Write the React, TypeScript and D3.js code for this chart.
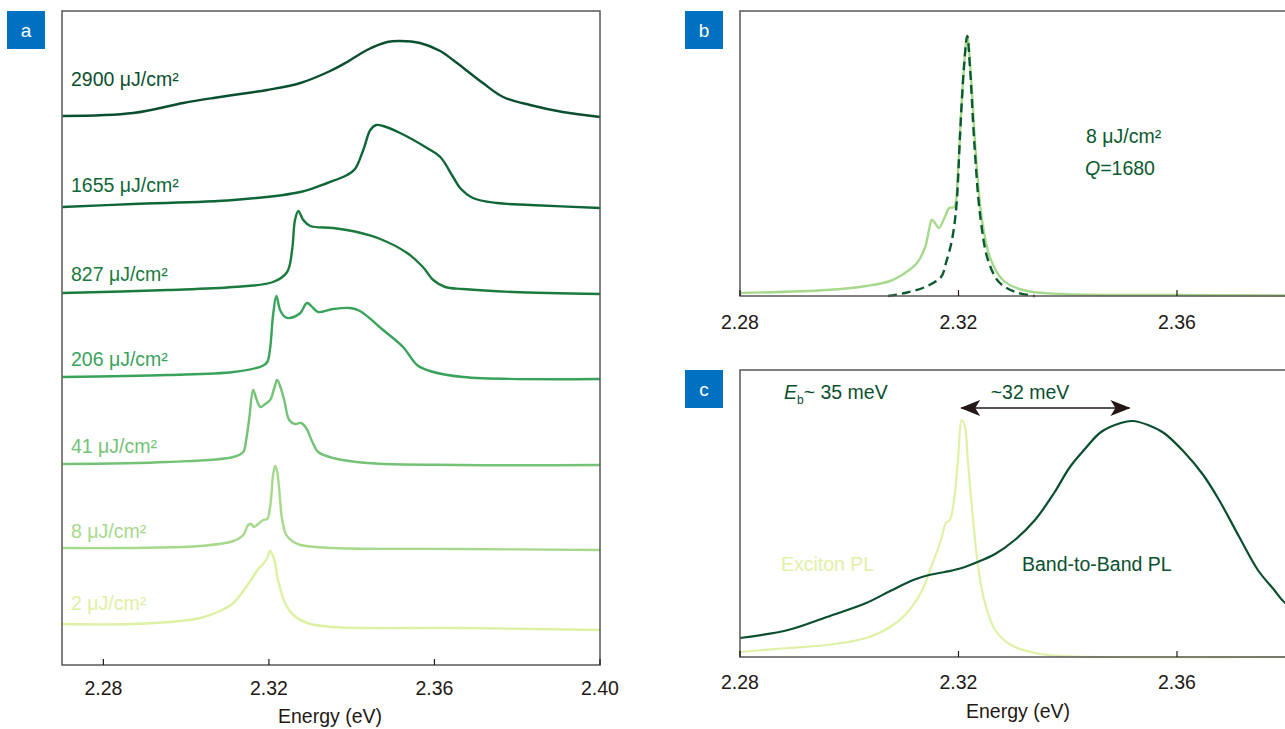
import React from 'react';
import * as d3 from 'd3';

type Pt = [number, number];

// ---------- Axis ticks ----------
const ticksA = [2.28, 2.32, 2.36, 2.4];
const ticksBC = [2.28, 2.32, 2.36];

// ---------- Panel a : PL spectra (offset, a.u.) ----------
const pl2900: Pt[] = [
  [2.2701, 549], [2.2872, 552], [2.2993, 562], [2.3066, 567], [2.3131, 571], [2.3196, 575],
  [2.3276, 582], [2.3348, 594], [2.3389, 603], [2.3437, 615], [2.3486, 623], [2.3517, 624],
  [2.3565, 622], [2.3614, 614], [2.3645, 605], [2.3717, 582], [2.3766, 568], [2.3831, 560],
  [2.391, 553], [2.4, 548],
];
const pl1655: Pt[] = [
  [2.2701, 458], [2.2872, 461], [2.3114, 465], [2.3276, 473], [2.3341, 482], [2.3389, 490],
  [2.3408, 496], [2.3428, 515], [2.3445, 535], [2.3459, 540], [2.3476, 539], [2.3517, 532],
  [2.3582, 517], [2.3614, 508], [2.3645, 488], [2.3662, 477], [2.3693, 467], [2.3751, 462],
  [2.3831, 460], [2.4, 457],
];
const pl827: Pt[] = [
  [2.2701, 372], [2.2955, 375], [2.3114, 378], [2.321, 383], [2.3244, 393], [2.3256, 415],
  [2.3263, 445], [2.3271, 454], [2.3283, 445], [2.33, 439], [2.3355, 437], [2.3413, 433],
  [2.3469, 426], [2.3534, 412], [2.3572, 398], [2.3597, 385], [2.3626, 378], [2.3669, 376],
  [2.379, 373], [2.4, 371],
];
const pl206: Pt[] = [
  [2.2701, 288], [2.2955, 290], [2.3114, 293], [2.3184, 299], [2.3196, 303], [2.3203, 317],
  [2.321, 350], [2.3218, 369], [2.3227, 355], [2.3239, 348], [2.3251, 347], [2.3276, 352],
  [2.3292, 362], [2.3307, 357], [2.3319, 353], [2.3355, 356], [2.3396, 357], [2.342, 354],
  [2.3476, 335], [2.3524, 318], [2.3558, 300], [2.3589, 294], [2.3669, 288], [2.4, 286],
];
const pl41: Pt[] = [
  [2.2701, 201], [2.2955, 203], [2.3114, 208], [2.3138, 213], [2.3145, 225], [2.3152, 245],
  [2.3162, 275], [2.3169, 267], [2.3179, 258], [2.3191, 261], [2.3203, 265], [2.3213, 277],
  [2.322, 285], [2.3227, 279], [2.3237, 265], [2.3249, 245], [2.3263, 241], [2.3278, 242],
  [2.329, 237], [2.3305, 223], [2.3319, 213], [2.3355, 207], [2.3437, 202], [2.3662, 200],
  [2.4, 200],
];
const pl8: Pt[] = [
  [2.2701, 117], [2.3034, 119], [2.3114, 124], [2.3138, 130], [2.3145, 136], [2.315, 140],
  [2.3157, 141], [2.3164, 138], [2.3174, 141], [2.3186, 145], [2.3196, 146], [2.3201, 153],
  [2.3206, 170], [2.321, 190], [2.3215, 199], [2.322, 193], [2.3225, 175], [2.3232, 145],
  [2.3242, 130], [2.3256, 124], [2.3276, 120], [2.3355, 117], [2.3662, 116], [2.4, 115],
];
const pl2: Pt[] = [
  [2.2701, 41], [2.2872, 41], [2.2986, 44], [2.3034, 47], [2.3082, 54], [2.3114, 62],
  [2.3138, 74], [2.316, 87], [2.3174, 96], [2.3186, 101], [2.3196, 107], [2.3203, 114],
  [2.3213, 105], [2.3222, 85], [2.3239, 62], [2.3259, 50], [2.3292, 42], [2.3355, 38],
  [2.3662, 37], [2.4, 35],
];

const fluenceLabels = ['2900 μJ/cm²', '1655 μJ/cm²', '827 μJ/cm²', '206 μJ/cm²', '41 μJ/cm²', '8 μJ/cm²', '2 μJ/cm²'];
const fluenceColors = ['#0a4f2f', '#0e6637', '#1b7a3e', '#3aa35b', '#73c275', '#a6d98b', '#ddf1a2'];
const fluenceSeries = [pl2900, pl1655, pl827, pl206, pl41, pl8, pl2];
const labelLevels = [86, 192, 281, 366, 453, 538, 610]; // label baselines (px) next to each curve

// ---------- Panel b : 8 uJ/cm2 spectrum and Lorentzian fit ----------
const measured8: Pt[] = [
  [2.28, 3], [2.2959, 6], [2.3031, 10], [2.3075, 15], [2.3102, 23], [2.3124, 33], [2.3139, 49],
  [2.3146, 66], [2.3151, 76], [2.3157, 73], [2.3164, 68], [2.3175, 79], [2.3183, 88], [2.3192, 89],
  [2.3199, 125], [2.3206, 195], [2.3216, 260], [2.3223, 218], [2.3232, 140], [2.3243, 76],
  [2.3258, 38], [2.3281, 16], [2.3318, 6], [2.3389, 2], [2.36, 1], [2.4, 0],
];
const fit8: Pt[] = [
  [2.3071, 0], [2.3102, 3], [2.3139, 9], [2.3168, 19], [2.3177, 33], [2.3188, 56], [2.3196, 89],
  [2.3203, 163], [2.321, 229], [2.3216, 260], [2.3221, 229], [2.3229, 153], [2.324, 79],
  [2.3254, 36], [2.3274, 14], [2.3304, 4], [2.334, 0],
];

// ---------- Panel c : exciton vs band-to-band PL ----------
const excitonPL: Pt[] = [
  [2.28, 5], [2.2888, 9], [2.2959, 12], [2.3031, 19], [2.3075, 30], [2.3102, 42], [2.3131, 64],
  [2.315, 90], [2.3168, 117], [2.3177, 134], [2.3184, 137], [2.3192, 157], [2.3199, 197],
  [2.3206, 237], [2.3212, 230], [2.3217, 197], [2.3225, 147], [2.3236, 90], [2.3247, 57],
  [2.3267, 27], [2.3296, 12], [2.334, 4], [2.3389, 1], [2.3798, 0], [2.4, 0],
];
const bandPL: Pt[] = [
  [2.28, 19], [2.2888, 27], [2.2959, 40], [2.3031, 54], [2.3075, 66], [2.3117, 77], [2.3146, 82],
  [2.3175, 85], [2.3206, 89], [2.3239, 96], [2.3267, 103], [2.3303, 117], [2.334, 137],
  [2.3375, 164], [2.3404, 190], [2.3433, 209], [2.3461, 225], [2.3497, 234], [2.3519, 236],
  [2.3547, 232], [2.3576, 224], [2.3613, 205], [2.3648, 182], [2.3677, 157], [2.3714, 120],
  [2.3748, 87], [2.3778, 67], [2.3798, 54], [2.385, 38], [2.39, 28],
];

const FONT = '"Liberation Sans", Arial, Helvetica, sans-serif';
const AXIS = '#5a5656';
const TXT = '#231815';
const BLUE = '#0070c0';
const FS = 19.5;

function PanelTag({ x, y, t }: { x: number; y: number; t: string }) {
  return (
    <g>
      <rect x={x} y={y} width={38} height={38} fill={BLUE} />
      <text x={x + 19} y={y + 26} textAnchor="middle" fill="#fff" fontSize={19} fontFamily={FONT}>{t}</text>
    </g>
  );
}

export default function App() {
  // scales
  const xA = d3.scaleLinear().domain([2.27, 2.4]).range([62, 600]);
  const yA = d3.scaleLinear().domain([0, 654]).range([665, 11]);
  const xB = d3.scaleLinear().domain([2.28, 2.4]).range([740, 1395.5]);
  const yB = d3.scaleLinear().domain([0, 285]).range([296, 11]);
  const xC = d3.scaleLinear().domain([2.28, 2.4]).range([740, 1395.5]);
  const yC = d3.scaleLinear().domain([0, 287]).range([657, 370]);

  const mk = (xs: d3.ScaleLinear<number, number>, ys: d3.ScaleLinear<number, number>) =>
    d3.line<Pt>().x((d) => xs(d[0])).y((d) => ys(d[1])).curve(d3.curveCatmullRom.alpha(0.5));

  const lineA = mk(xA, yA);
  const lineB = mk(xB, yB);
  const lineC = mk(xC, yC);

  const arrowY = 408;
  const arrowL = xC(2.3205);
  const arrowR = xC(2.3513);

  return (
    <svg width={1285} height={729} style={{ position: 'absolute', left: 0, top: 0, background: '#fff' }} fontFamily={FONT}>
      <defs>
        <marker id="ah" viewBox="0 0 20 16" refX="19" refY="8" markerWidth="20" markerHeight="16" markerUnits="userSpaceOnUse" orient="auto-start-reverse">
          <path d="M0,0 L20,8 L0,16 L5,8 Z" fill={TXT} />
        </marker>
      </defs>

      {/* ================= Panel a ================= */}
      <PanelTag x={7} y={11} t="a" />
      {fluenceSeries.map((s, i) => (
        <path key={i} d={lineA(s) || ''} fill="none" stroke={fluenceColors[i]} strokeWidth={2.4} strokeLinejoin="round" />
      ))}
      {fluenceLabels.map((l, i) => (
        <text key={l} x={71} y={labelLevels[i]} fill={fluenceColors[i]} fontSize={FS}>{l}</text>
      ))}
      <rect x={xA.range()[0]} y={yA.range()[1]} width={xA.range()[1] - xA.range()[0]} height={yA.range()[0] - yA.range()[1]} fill="none" stroke={AXIS} strokeWidth={1.5} />
      {ticksA.map((t) => (
        <g key={t}>
          <line x1={xA(t)} x2={xA(t)} y1={yA(0)} y2={yA(0) - 6} stroke={TXT} strokeWidth={1.2} />
          <text x={xA(t)} y={695} textAnchor="middle" fill={TXT} fontSize={FS}>{t.toFixed(2)}</text>
        </g>
      ))}
      <text x={330} y={723} textAnchor="middle" fill={TXT} fontSize={FS}>Energy (eV)</text>

      {/* ================= Panel b ================= */}
      <PanelTag x={685} y={11} t="b" />
      <path d={lineB(measured8) || ''} fill="none" stroke="#a6d98b" strokeWidth={2.4} strokeLinejoin="round" />
      <path d={lineB(fit8) || ''} fill="none" stroke="#0a5a30" strokeWidth={2.4} strokeDasharray="9,5" />
      <rect x={xB.range()[0]} y={yB.range()[1]} width={xB.range()[1] - xB.range()[0]} height={yB.range()[0] - yB.range()[1]} fill="none" stroke={AXIS} strokeWidth={1.5} />
      {ticksBC.map((t) => (
        <g key={t}>
          <line x1={xB(t)} x2={xB(t)} y1={yB(0)} y2={yB(0) - 6} stroke={TXT} strokeWidth={1.2} />
          <text x={xB(t)} y={329} textAnchor="middle" fill={TXT} fontSize={FS}>{t.toFixed(2)}</text>
        </g>
      ))}
      <text x={1086} y={143} fill="#0a5a30" fontSize={FS}>8 μJ/cm²</text>
      <text x={1085} y={175} fill="#0a5a30" fontSize={FS}>
        <tspan fontStyle="italic">Q</tspan>=1680
      </text>

      {/* ================= Panel c ================= */}
      <PanelTag x={685} y={370} t="c" />
      <path d={lineC(excitonPL) || ''} fill="none" stroke="#dff1a6" strokeWidth={2.2} strokeLinejoin="round" />
      <path d={lineC(bandPL) || ''} fill="none" stroke="#0a4f2f" strokeWidth={2.2} strokeLinejoin="round" />
      <rect x={xC.range()[0]} y={yC.range()[1]} width={xC.range()[1] - xC.range()[0]} height={yC.range()[0] - yC.range()[1]} fill="none" stroke={AXIS} strokeWidth={1.5} />
      {ticksBC.map((t) => (
        <g key={t}>
          <line x1={xC(t)} x2={xC(t)} y1={yC(0)} y2={yC(0) - 6} stroke={TXT} strokeWidth={1.2} />
          <text x={xC(t)} y={689} textAnchor="middle" fill={TXT} fontSize={FS}>{t.toFixed(2)}</text>
        </g>
      ))}
      <text x={1018} y={718} textAnchor="middle" fill={TXT} fontSize={FS}>Energy (eV)</text>
      <text x={784} y={399} fill="#0a4f2f" fontSize={FS}>
        <tspan fontStyle="italic">E</tspan>
        <tspan fontSize={12} dy={5}>b</tspan>
        <tspan dy={-5}>~ 35 meV</tspan>
      </text>
      <text x={1030} y={399} textAnchor="middle" fill="#0a4f2f" fontSize={FS}>~32 meV</text>
      <line x1={arrowL} x2={arrowR} y1={arrowY} y2={arrowY} stroke={TXT} strokeWidth={1.6} markerStart="url(#ah)" markerEnd="url(#ah)" />
      <text x={781} y={571} fill="#dff1a6" fontSize={FS}>Exciton PL</text>
      <text x={1022} y={571} fill="#0a4f2f" fontSize={FS}>Band-to-Band PL</text>
    </svg>
  );
}
